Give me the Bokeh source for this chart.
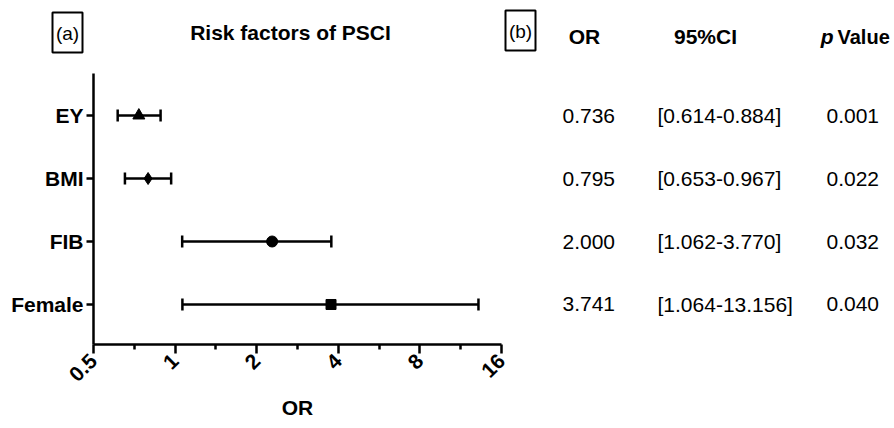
import math
from bokeh.plotting import figure
from bokeh.models import ColumnDataSource, Whisker, TeeHead, FixedTicker, Range1d
from bokeh.embed import file_html
from bokeh.resources import INLINE
from bokeh.core.properties import value

# ---------------- data ----------------
CATEGORIES = ["EY", "BMI", "FIB", "Female"]
OR_PLOT = [0.735, 0.795, 2.28, 3.76]          # plotted point estimates
CI_LOW = [0.614, 0.653, 1.062, 1.064]
CI_HIGH = [0.884, 0.967, 3.770, 13.156]
OR_TEXT = ["0.736", "0.795", "2.000", "3.741"]
CI_TEXT = ["[0.614-0.884]", "[0.653-0.967]", "[1.062-3.770]", "[1.064-13.156]"]
P_TEXT = ["0.001", "0.022", "0.032", "0.040"]
X_TICKS = [0.5, 1, 2, 4, 8, 16]
TITLE = "Risk factors of PSCI"
HEADERS = ["OR", "95%CI"]

# ---------------- styles ----------------
MARKERS = ["triangle", "diamond", "circle", "square"]
MARKER_SIZES = [12, 12, 11, 10]
FONT = "Liberation Sans"
LW = 2.5

# ---------------- layout (pixels inside the canvas) ----------------
W, H = 890, 424
AX_L, AX_R = 93, 501      # pixel x of first / last x tick
AX_T, AX_B = 73, 344      # pixel y of top of y axis / x axis line
Y0, Y1 = -0.635, 3.667    # data extent of the y axis
XMIN, XMAX = X_TICKS[0], X_TICKS[-1]
LOGSPAN = math.log2(XMAX / XMIN)
PX_PER_OCT = (AX_R - AX_L) / LOGSPAN
U = (Y1 - Y0) / (AX_B - AX_T)


def sx(px):
    """canvas pixel x -> data x (log2 scale)"""
    return XMIN * 2 ** ((px - AX_L) / PX_PER_OCT)


def sy(py):
    """canvas pixel y (from top) -> data y"""
    return Y1 - (py - AX_T) * U


n = len(CATEGORIES)
ys = [n - 1 - i for i in range(n)]

src = ColumnDataSource(dict(
    y=ys, orv=OR_PLOT, lo=CI_LOW, hi=CI_HIGH,
    marker=MARKERS, size=MARKER_SIZES,
))

p = figure(width=W, height=H, x_axis_type="log",
           x_range=Range1d(sx(0), sx(W)), y_range=Range1d(sy(H), sy(0)),
           output_backend="svg", toolbar_location=None, min_border=0,
           min_border_left=0, min_border_right=0, min_border_top=0, min_border_bottom=0)
p.title.visible = False
p.outline_line_color = None
p.grid.visible = False
p.background_fill_color = "white"
p.border_fill_color = "white"

# ---- forest plot ----
whisk = Whisker(source=src, base="y", lower="lo", upper="hi", dimension="width",
                line_color="black", line_width=LW,
                lower_head=TeeHead(size=12, line_width=LW, line_color="black"),
                upper_head=TeeHead(size=12, line_width=LW, line_color="black"))
p.add_layout(whisk)
p.scatter(x="orv", y="y", marker="marker", size="size", source=src,
          fill_color="black", line_color="black")

minor = [math.sqrt(a * b) for a, b in zip(X_TICKS[:-1], X_TICKS[1:])]
xa = p.xaxis[0]
xa.fixed_location = Y0
xa.bounds = (XMIN, XMAX)
xa.ticker = FixedTicker(ticks=X_TICKS, minor_ticks=minor)
xa.major_label_orientation = math.pi / 4
xa.major_label_text_font = FONT
xa.major_label_text_font_style = "bold"
xa.major_label_text_font_size = "21px"
xa.major_label_text_color = "black"
xa.major_label_standoff = 4
xa.axis_label = "OR"
xa.axis_label_text_font = FONT
xa.axis_label_text_font_style = "bold"
xa.axis_label_text_font_size = "21px"
xa.axis_label_text_color = "black"
xa.axis_label_standoff = 5
xa.axis_line_width = LW
xa.major_tick_line_width = LW
xa.minor_tick_line_width = LW
xa.major_tick_in = 0
xa.major_tick_out = 9
xa.minor_tick_in = 0
xa.minor_tick_out = 5

ya = p.yaxis[0]
ya.fixed_location = XMIN
ya.bounds = (Y0, Y1)
ya.ticker = FixedTicker(ticks=ys, minor_ticks=[])
ya.major_label_overrides = {y: c for y, c in zip(ys, CATEGORIES)}
ya.major_label_text_font = FONT
ya.major_label_text_font_style = "bold"
ya.major_label_text_font_size = "21px"
ya.major_label_text_color = "black"
ya.major_label_standoff = 3
ya.axis_line_width = LW
ya.major_tick_line_width = LW
ya.major_tick_in = 0
ya.major_tick_out = 7
ya.minor_tick_line_color = None

# ---- panel headings ----
bold = dict(text_font=value(FONT), text_font_style="bold", text_color="black",
            text_baseline="middle")
p.text(x=[sx(290)], y=[sy(32)], text=[TITLE], text_align="center",
       text_font_size="21px", **bold)

for cx, cy, lab in [(67, 32, "(a)"), (520, 30, "(b)")]:
    p.rect(x=[sx(cx)], y=[sy(cy)], width=30, height=40, width_units="screen",
           height_units="screen", fill_color=None, line_color="black", line_width=2)
    p.text(x=[sx(cx)], y=[sy(cy + 1)], text=[lab], text_align="center",
           text_font=value(FONT), text_font_size="19px", text_color="black",
           text_baseline="middle")

# ---- table ----
hy = sy(36)
p.text(x=[sx(584), sx(705)], y=[hy, hy], text=HEADERS, text_align="center",
       text_font_size="21px", **bold)
p.text(x=[sx(833)], y=[hy], text=["p"], text_align="right", text_font_size="21px",
       text_font=value(FONT), text_font_style="bold italic", text_color="black",
       text_baseline="middle")
p.text(x=[sx(837)], y=[hy], text=["Value"], text_align="left",
       text_font_size="20px", **bold)

tsrc = ColumnDataSource(dict(y=ys, ort=OR_TEXT, cit=CI_TEXT, pt=P_TEXT))
common = dict(text_font=value(FONT), text_font_size="21px", text_color="black",
              text_baseline="middle", text_align="left", source=tsrc)
p.text(x=sx(562), y="y", text="ort", **common)
p.text(x=sx(657), y="y", text="cit", **common)
p.text(x=sx(826), y="y", text="pt", **common)

open("out.html", "w").write(file_html(p, INLINE))
